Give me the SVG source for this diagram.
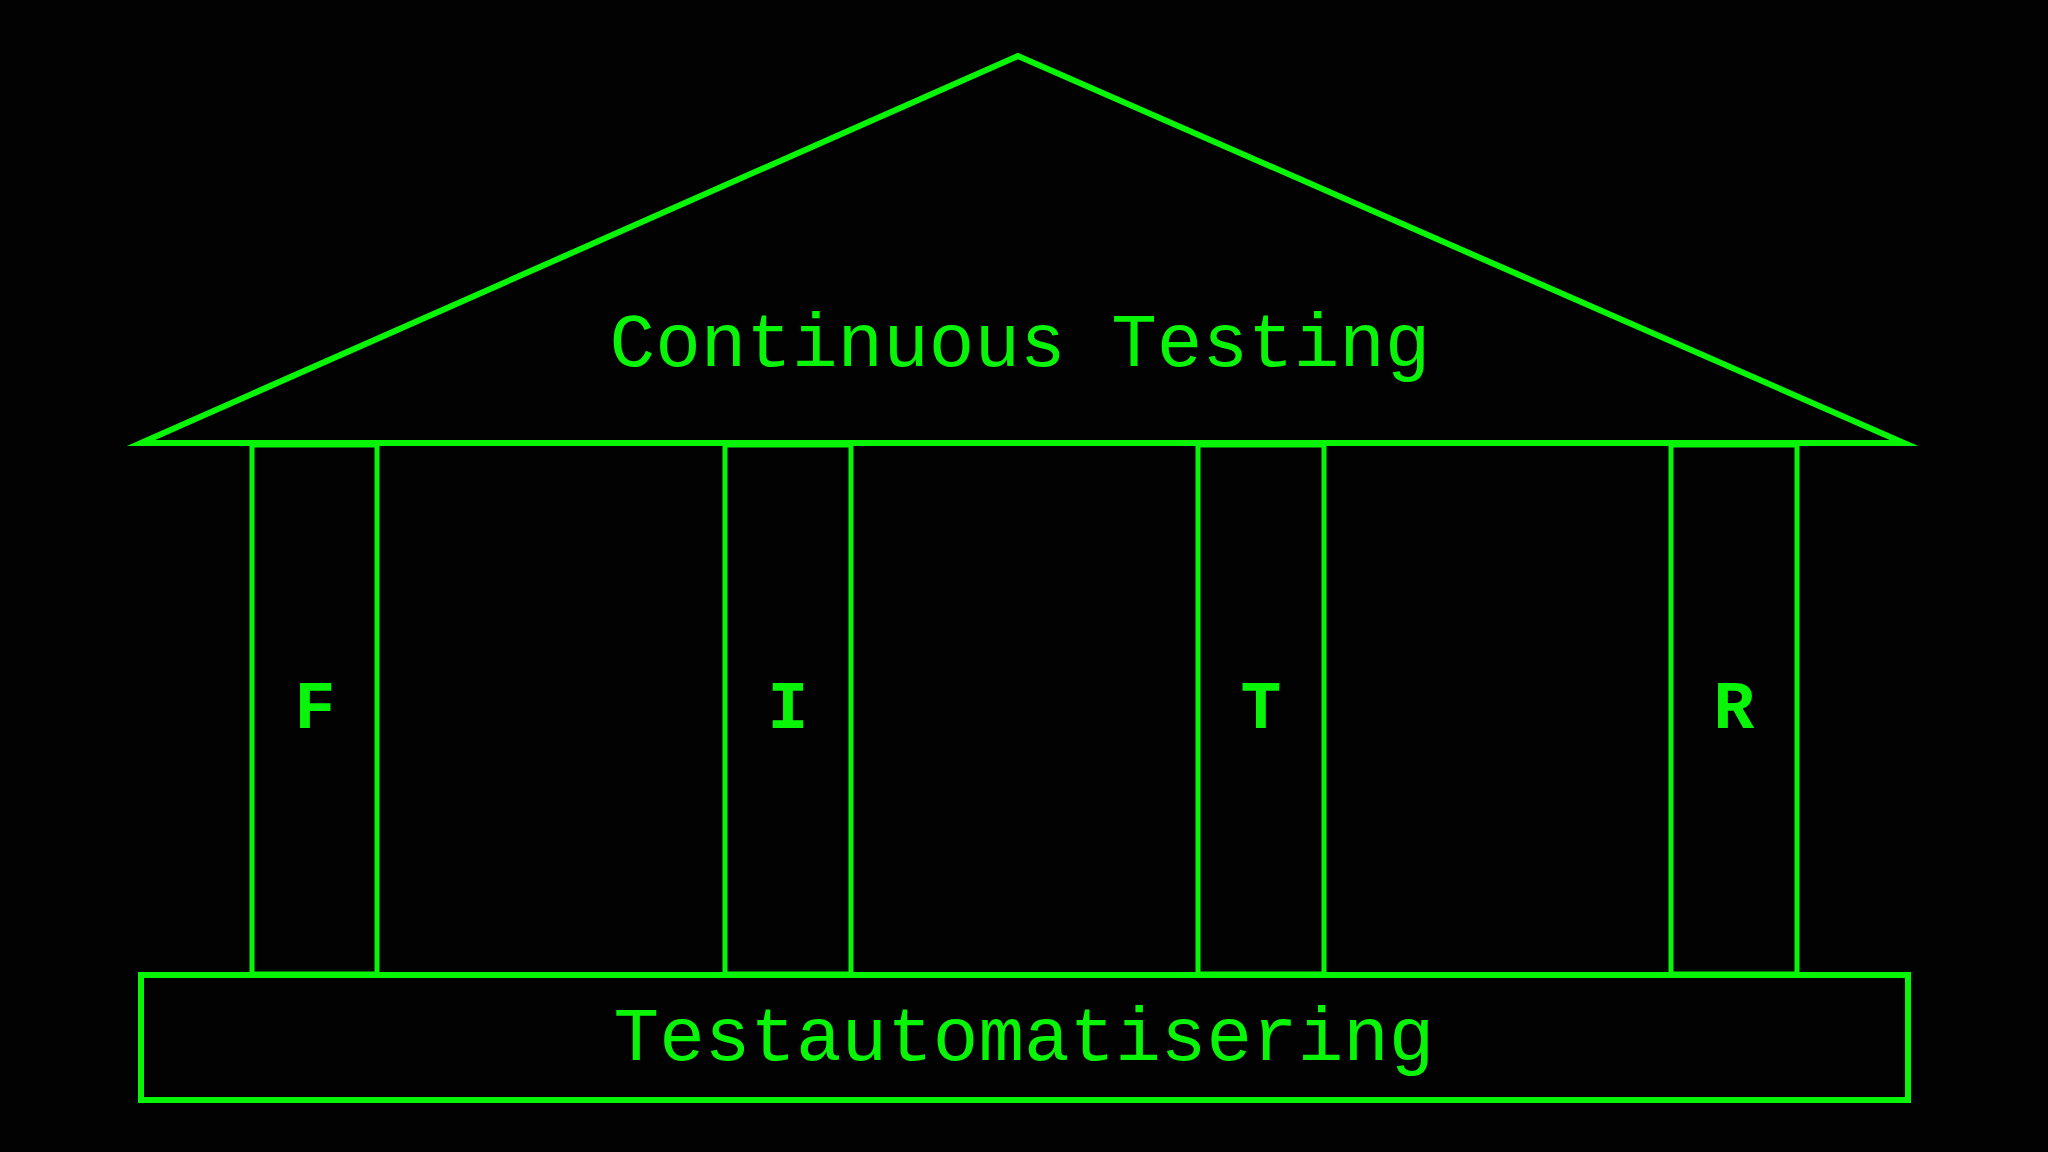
<svg xmlns="http://www.w3.org/2000/svg" width="2048" height="1152" viewBox="0 0 2048 1152">
  <style>
    .ln { fill: none; stroke: #08f508; stroke-width: 6; }
    .col { fill: none; stroke: #08f508; stroke-width: 5; }
    .lbl { font-family: "Liberation Mono", "Courier New", monospace; font-size: 76px; fill: #08f508; text-anchor: middle; }
    .ltr { font-family: "Liberation Mono", "Courier New", monospace; font-size: 68px; font-weight: bold; fill: #08f508; text-anchor: middle; }
  </style>
  <rect x="0" y="0" width="2048" height="1152" fill="#030203"/>
  <g id="roof">
    <polygon class="ln" points="1018,56 141,443 1904,443" stroke-miterlimit="10"/>
    <text class="lbl" x="1020" y="366">Continuous Testing</text>
  </g>
  <g id="pillar-F">
    <rect class="col" x="252" y="445" width="125" height="529"/>
    <text class="ltr" x="315" y="728">F</text>
  </g>
  <g id="pillar-I">
    <rect class="col" x="725" y="445" width="126" height="529"/>
    <text class="ltr" x="788" y="728">I</text>
  </g>
  <g id="pillar-T">
    <rect class="col" x="1198" y="445" width="126" height="529"/>
    <text class="ltr" x="1261" y="728">T</text>
  </g>
  <g id="pillar-R">
    <rect class="col" x="1671" y="445" width="126" height="529"/>
    <text class="ltr" x="1734" y="728">R</text>
  </g>
  <g id="foundation">
    <rect class="ln" x="141" y="975" width="1767" height="125"/>
    <text class="lbl" x="1024" y="1060">Testautomatisering</text>
  </g>
  <g id="connectors"/>
</svg>
